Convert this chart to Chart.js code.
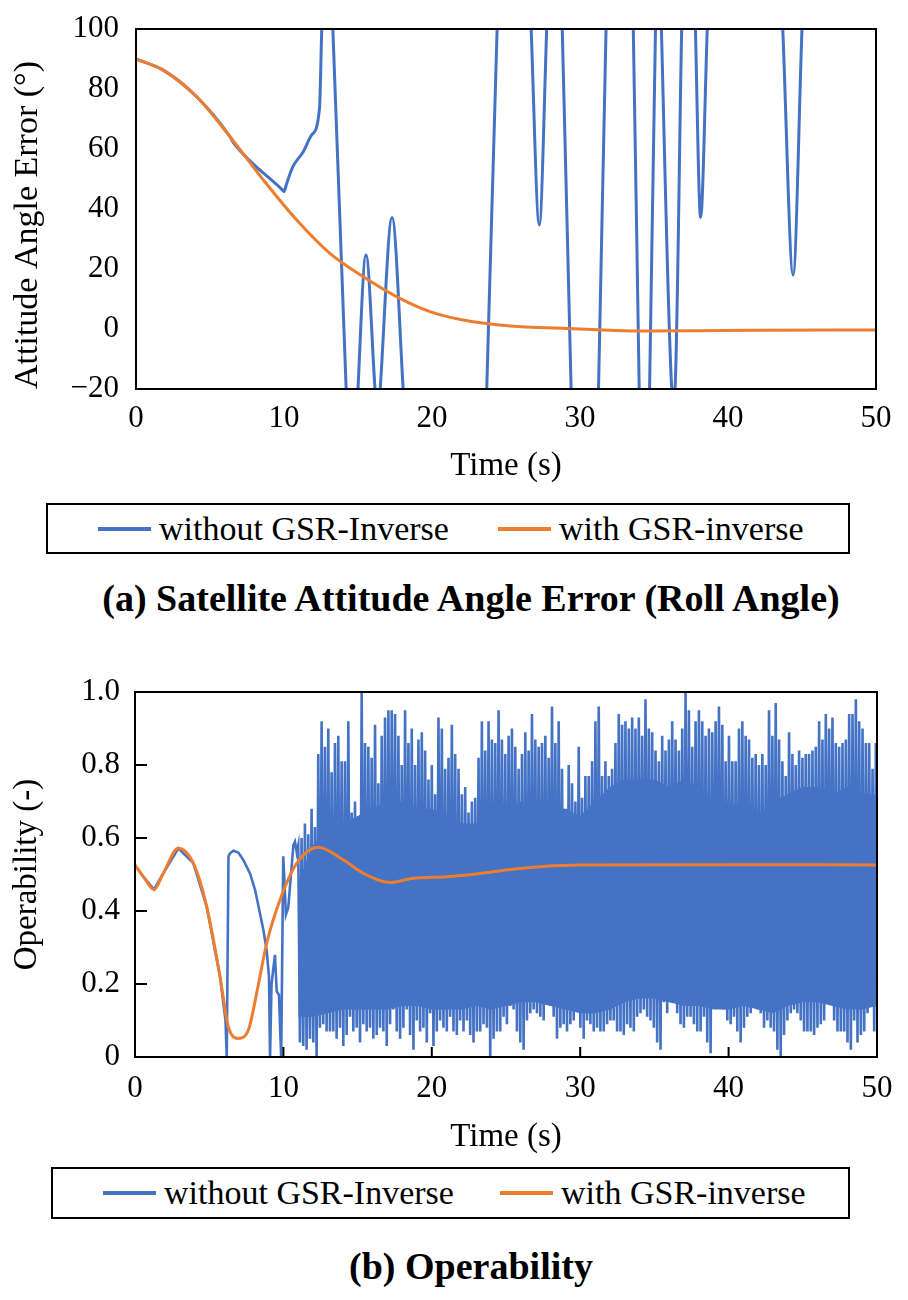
<!DOCTYPE html>
<html>
<head>
<meta charset="utf-8">
<script src="https://cdn.jsdelivr.net/npm/chart.js@4.4.1/dist/chart.umd.min.js"></script>
<style>
  body { margin: 0; background: #fff; }
  #page { position: relative; width: 908px; height: 1300px; overflow: hidden;
          font-family: "Liberation Serif", "Times New Roman", serif; color: #000; }
  .plot { position: absolute; left: 0; width: 908px; height: 500px; }
  .legend { position: absolute; border: 2px solid #000; box-sizing: border-box; font-size: 34px; }
  .legend .item { position: absolute; top: 0; height: 100%; display: flex; align-items: center; white-space: nowrap; }
  .legend .swatch { width: 53px; height: 4px; margin-right: 8px; }
  .caption { position: absolute; left: 0; width: 942px; text-align: center;
             font-weight: bold; font-size: 38px; line-height: 44px; }
</style>
</head>
<body>
<div id="page">
  <div class="plot" style="top:0"><canvas id="rollChart"></canvas></div>
  <div class="legend" id="rollLegend" style="left:46px; top:503px; width:804px; height:51px"></div>
  <div class="caption" style="top:576px">(a) Satellite Attitude Angle Error (Roll Angle)</div>

  <div class="plot" style="top:663px"><canvas id="opChart"></canvas></div>
  <div class="legend" id="opLegend" style="left:51px; top:1167px; width:799px; height:52px"></div>
  <div class="caption" style="top:1244px">(b) Operability</div>
</div>

<script>
// ---- (a) roll angle error, degrees ----
const rollTimeGsr = [0, 1.84, 4.1, 6.35, 8.6, 10.86, 13.1, 15.36, 17.6, 19.86, 22.1, 25.3, 29.1, 32, 34.5, 38, 42, 50];
const rollGsr     = [90, 86.3, 77.4, 64.1, 49.7, 36.3, 25.2, 17.4, 10.8, 5.8, 3.0, 1.0, 0.2, -0.4, -0.7, -0.6, -0.4, -0.3];

// values outside -20..100 leave the frame (clipped like the original)
const rollTimeNoGsr = [0, 1.84, 4.1, 6.35, 6.6, 9.9, 10.0, 10.15, 10.6, 11.3, 11.87, 12.4, 12.55, 12.9, 13.3,
  14.2, 14.6, 15.0, 15.54, 16.15, 16.33, 16.5, 17.3, 18.05, 18.5, 19.2, 23.2, 23.7, 24.4, 25.55,
  26.7, 27.25, 27.75, 28.3, 28.8, 29.4, 29.9, 30.75, 31.25, 31.76, 32.7, 33.6, 34.0, 34.35, 34.7,
  35.1, 35.3, 35.5, 36.2, 36.31, 36.42, 36.87, 37.35, 37.8, 38.15, 38.6, 41, 43.7, 44.4, 45.0, 47, 50];
const rollNoGsr = [90, 86.3, 77.4, 64.1, 62, 46.3, 45.8, 48, 54.1, 59.1, 64.7, 73.6, 100, 150, 100,
  -20, -70, -20, 24.7, -20, -32, -20, 37.2, -20, -60, -110, -110, -20, 100, 260,
  100, 34.7, 100, 180, 100, -20, -110, -110, -20, 100, 250, 100, -20, -100, -20,
  100, 140, 100, -20, -23, -20, 100, 200, 100, 37.2, 100, 400, 100, 18, 100, 350, 500];

// ---- (b) operability ----
const opTimeGsr = [0, 0.56, 1.28, 1.9, 2.92, 3.93, 4.83, 5.73, 6.29, 6.96, 7.64, 8.2, 8.87, 9.77, 10.9,
  12.35, 14.04, 15.4, 17.2, 18.75, 21.0, 23.25, 25.3, 27.5, 30, 40, 50];
const opGsr = [0.526, 0.494, 0.459, 0.503, 0.572, 0.531, 0.412, 0.22, 0.083, 0.051, 0.074, 0.175, 0.311, 0.43, 0.531,
  0.575, 0.54, 0.503, 0.478, 0.49, 0.494, 0.503, 0.514, 0.522, 0.526, 0.527, 0.526];

// without GSR-inverse: smooth part up to ~11 s
const opTimeNoGsr = [0, 0.56, 1.28, 1.9, 2.92, 3.93, 4.83, 5.73, 6.1, 6.18, 6.3, 6.4, 6.63, 6.96, 7.3,
  7.75, 8.09, 8.42, 8.65, 8.87, 9.03, 9.1, 9.2, 9.43, 9.55, 9.7, 9.85, 9.99, 10.17, 10.33, 10.67, 10.78, 10.9];
const opNoGsr = [0.526, 0.494, 0.459, 0.503, 0.572, 0.531, 0.412, 0.22, 0.10, 0.0, 0.55, 0.558, 0.565, 0.56, 0.54,
  0.503, 0.458, 0.394, 0.348, 0.293, 0.22, 0.0, 0.2, 0.28, 0.18, 0.17, 0.0, 0.55, 0.39, 0.41, 0.58, 0.59, 0.56];

// chattering part from 11 s: alternating spike tops and bottoms on a fixed sample clock
const chatterStart = 11.0;
const chatterStep = 0.225;
const chatterTops = [
  0.58, 0.60, 0.64, 0.61, 0.68, 0.63, 0.83, 0.92, 0.85, 0.90,
  0.78, 0.86, 0.88, 0.81, 0.81, 0.92, 0.67, 0.70, 0.64, 1.00,
  0.86, 0.85, 0.82, 0.91, 0.75, 0.88, 0.93, 0.95, 0.95, 0.94,
  0.88, 0.80, 0.95, 0.86, 0.90, 0.80, 0.87, 0.89, 0.84, 0.76,
  0.80, 0.72, 0.93, 0.90, 0.79, 0.82, 0.91, 0.83, 0.79, 0.72,
  0.74, 0.67, 0.70, 0.71, 0.82, 0.92, 0.84, 0.92, 0.87, 0.86,
  0.95, 0.87, 0.83, 0.88,
  0.90, 0.85, 0.79, 0.83, 0.89, 0.84, 0.94, 0.87, 0.85, 0.86,
  0.88, 0.82, 0.96, 0.86, 0.92, 0.79, 0.68, 0.80, 0.75, 0.70,
  0.85, 0.71, 0.77, 0.77, 0.81, 0.92, 0.96, 0.77, 0.81, 0.77,
  0.79, 0.86, 0.94, 0.91, 0.92, 0.90, 0.93, 0.90, 0.93, 0.88,
  0.98, 0.90, 0.89, 0.84, 0.81, 0.88, 0.84, 0.87, 0.92, 0.87,
  0.84, 0.90, 1.00, 0.95, 0.85, 0.92, 0.95, 0.92, 0.88, 0.90,
  0.89, 0.92, 0.96, 0.91, 0.81, 0.88, 0.81, 0.81, 0.90, 0.92,
  0.88, 0.87, 0.82, 0.83, 0.80, 0.83, 0.80, 0.95, 0.88, 0.97,
  0.87, 0.81, 0.77, 0.89, 0.83, 0.80, 0.84, 0.82, 0.83, 0.83,
  0.84, 0.85, 0.92, 0.87, 0.94, 0.90, 0.93, 0.86, 0.85, 0.86,
  0.87, 0.94, 0.94, 0.98, 0.92, 0.90, 0.86, 0.86, 0.79, 0.86];
const chatterBottoms = [
  0.04, 0.03, 0.02, 0.05, 0.04, 0.00, 0.08, 0.09, 0.07, 0.07,
  0.07, 0.05, 0.08, 0.03, 0.06, 0.11, 0.07, 0.08, 0.04, 0.09,
  0.07, 0.08, 0.05, 0.06, 0.08, 0.07, 0.03, 0.09, 0.13, 0.07,
  0.05, 0.08, 0.13, 0.06, 0.02, 0.10, 0.07, 0.08, 0.04, 0.12,
  0.03, 0.07, 0.10, 0.08, 0.07, 0.11, 0.07, 0.06, 0.10, 0.07,
  0.10, 0.06, 0.04, 0.07, 0.07, 0.09, 0.08, 0.00, 0.05, 0.07,
  0.07, 0.11, 0.09, 0.14,
  0.13, 0.07, 0.04, 0.02, 0.10, 0.12, 0.13, 0.12, 0.11, 0.10,
  0.17, 0.14, 0.11, 0.05, 0.08, 0.09, 0.07, 0.09, 0.10, 0.13,
  0.08, 0.05, 0.10, 0.09, 0.07, 0.08, 0.07, 0.07, 0.09, 0.10,
  0.10, 0.07, 0.07, 0.06, 0.09, 0.08, 0.07, 0.11, 0.12, 0.13,
  0.11, 0.10, 0.08, 0.04, 0.02, 0.15, 0.12, 0.15, 0.19, 0.12,
  0.09, 0.08, 0.11, 0.11, 0.09, 0.07, 0.07, 0.11, 0.04, 0.01,
  0.17, 0.16, 0.14, 0.13, 0.10, 0.09, 0.11, 0.07, 0.04, 0.08,
  0.11, 0.12, 0.14, 0.13, 0.12, 0.08, 0.10, 0.08, 0.07, 0.02,
  0.00, 0.06, 0.10, 0.12, 0.13, 0.12, 0.10, 0.07, 0.07, 0.07,
  0.06, 0.08, 0.09, 0.10, 0.21, 0.17, 0.10, 0.07, 0.07, 0.07,
  0.04, 0.02, 0.10, 0.04, 0.06, 0.07, 0.12, 0.15, 0.07, 0.07];

// edges of the solid (densely crossed) core of the chattering band
const coreTime = [11, 11.5, 12, 13, 14, 15, 16, 17, 18, 19, 20, 21, 22, 23, 24, 25, 26, 27, 28, 29, 30,
  31, 32, 33, 34, 35, 36, 37, 38, 39, 40, 41, 42, 43, 44, 45, 46, 47, 48, 49, 50];
const coreTop = [0.48, 0.53, 0.58, 0.62, 0.64, 0.66, 0.68, 0.70, 0.70, 0.68, 0.68, 0.66, 0.64, 0.64, 0.66, 0.68,
  0.70, 0.68, 0.68, 0.68, 0.66, 0.70, 0.74, 0.76, 0.76, 0.76, 0.74, 0.76, 0.74, 0.70, 0.70, 0.68, 0.66, 0.70,
  0.72, 0.74, 0.74, 0.72, 0.74, 0.72, 0.72];
const coreBottom = [0.11, 0.11, 0.11, 0.12, 0.13, 0.13, 0.13, 0.13, 0.14, 0.14, 0.13, 0.13, 0.13, 0.14, 0.13, 0.14,
  0.15, 0.15, 0.14, 0.13, 0.12, 0.12, 0.13, 0.15, 0.16, 0.16, 0.15, 0.14, 0.14, 0.13, 0.13, 0.14, 0.13, 0.12,
  0.14, 0.15, 0.15, 0.14, 0.13, 0.13, 0.14];

const rollTicks = [-20, 0, 20, 40, 60, 80, 100];
const opTicks = [0, 0.2, 0.4, 0.6, 0.8, 1.0];
const timeTicks = [0, 10, 20, 30, 40, 50];

const BLUE = '#4472C4';
const ORANGE = '#ED7D31';
const SERIF = "'Liberation Serif', 'Times New Roman', serif";

function pairs(xs, ys) {
  return xs.map((x, i) => ({ x: x, y: ys[i] }));
}

const opNoGsrPoints = pairs(opTimeNoGsr, opNoGsr);
chatterTops.forEach((top, k) => {
  const t = chatterStart + chatterStep * k;
  opNoGsrPoints.push({ x: t, y: top });
  opNoGsrPoints.push({ x: t + chatterStep / 2, y: chatterBottoms[k] });
});

// black frame round the plot area, optional inward tick marks
const framePlugin = {
  id: 'frame',
  afterDraw(chart, args, opts) {
    const { ctx, chartArea: a, scales } = chart;
    ctx.save();
    ctx.strokeStyle = '#000';
    ctx.lineWidth = 2;
    if (opts.tickLength) {
      ctx.beginPath();
      scales.y.ticks.forEach(t => {
        const py = scales.y.getPixelForValue(t.value);
        ctx.moveTo(a.left, py);
        ctx.lineTo(a.left + opts.tickLength, py);
      });
      scales.x.ticks.forEach(t => {
        const px = scales.x.getPixelForValue(t.value);
        ctx.moveTo(px, a.bottom);
        ctx.lineTo(px, a.bottom - opts.tickLength + 2);
      });
      ctx.stroke();
    }
    ctx.strokeRect(a.left, a.top, a.right - a.left, a.bottom - a.top);
    ctx.restore();
  }
};

function makeChart(id, datasets, s) {
  return new Chart(document.getElementById(id), {
    type: 'line',
    data: { datasets },
    options: {
      responsive: true,
      maintainAspectRatio: false,
      animation: false,
      layout: { padding: { top: 29, right: s.right, left: 0, bottom: 0 } },
      plugins: { legend: { display: false }, tooltip: { enabled: false }, frame: { tickLength: s.tickLength } },
      scales: {
        x: {
          type: 'linear', min: 0, max: 50,
          afterBuildTicks: sc => { sc.ticks = timeTicks.map(v => ({ value: v })); },
          ticks: { padding: s.xPad, color: '#000', font: { family: SERIF, size: 31 } },
          grid: { display: false, drawTicks: false },
          border: { display: false },
          title: { display: true, text: 'Time (s)', color: '#000',
                   font: { family: SERIF, size: 33 }, padding: { top: 0, bottom: s.xTitlePad } },
          afterFit: sc => { sc.height = s.xHeight; sc.paddingLeft = 0; sc.paddingRight = 0; }
        },
        y: {
          type: 'linear', min: s.yTicks[0], max: s.yTicks[s.yTicks.length - 1],
          afterBuildTicks: sc => { sc.ticks = s.yTicks.map(v => ({ value: v })); },
          ticks: { padding: s.yPad, color: '#000', font: { family: SERIF, size: 31 }, callback: s.yFormat },
          grid: { display: false, drawTicks: false },
          border: { display: false },
          title: { display: true, text: s.yTitle, color: '#000', align: s.yAlign,
                   font: { family: SERIF, size: s.yTitleSize }, padding: { top: 8 } },
          afterFit: sc => { sc.width = s.yWidth; sc.paddingTop = 0; sc.paddingBottom = 0; }
        }
      }
    },
    plugins: [framePlugin]
  });
}

const rollChart = makeChart('rollChart', [
  { label: 'without GSR-Inverse', data: pairs(rollTimeNoGsr, rollNoGsr), borderColor: BLUE, borderWidth: 3,
    pointRadius: 0, cubicInterpolationMode: 'monotone', order: 1 },
  { label: 'with GSR-inverse', data: pairs(rollTimeGsr, rollGsr), borderColor: ORANGE, borderWidth: 3,
    pointRadius: 0, cubicInterpolationMode: 'monotone', order: 0 }
], {
  right: 32, yWidth: 136, xHeight: 111, xPad: 11, xTitlePad: 14, yPad: 17, tickLength: 0,
  yTicks: rollTicks, yTitle: 'Attitude Angle Error (°)', yAlign: 'start', yTitleSize: 34,
  yFormat: v => v < 0 ? '\u2212' + Math.abs(v) : String(v)
});

const opChart = makeChart('opChart', [
  { label: 'without GSR-Inverse', data: opNoGsrPoints, borderColor: BLUE, borderWidth: 2.6,
    pointRadius: 0, tension: 0, order: 1 },
  { label: 'with GSR-inverse', data: pairs(opTimeGsr, opGsr), borderColor: ORANGE, borderWidth: 3,
    pointRadius: 0, cubicInterpolationMode: 'monotone', order: 0 },
  // solid core of the blue band (part of the blue series, not a legend entry)
  { label: 'core top', data: pairs(coreTime, coreTop), borderWidth: 0, pointRadius: 0, tension: 0,
    backgroundColor: BLUE, fill: '+1', order: 2, inLegend: false },
  { label: 'core bottom', data: pairs(coreTime, coreBottom), borderWidth: 0, pointRadius: 0, tension: 0,
    order: 3, inLegend: false }
], {
  right: 31, yWidth: 135, xHeight: 106, xPad: 13, xTitlePad: 6, yPad: 15, tickLength: 12,
  yTicks: opTicks, yTitle: 'Operability (-)', yAlign: 'center', yTitleSize: 33,
  yFormat: v => v === 0 ? '0' : v.toFixed(1)
});

// html legend boxes built from the chart datasets
function buildLegend(chart, id, slots) {
  const box = document.getElementById(id);
  chart.data.datasets.filter(ds => ds.inLegend !== false).forEach((ds, i) => {
    const item = document.createElement('div');
    item.className = 'item';
    item.style.left = slots[i] + 'px';
    const sw = document.createElement('span');
    sw.className = 'swatch';
    sw.style.background = ds.borderColor;
    item.appendChild(sw);
    item.appendChild(document.createTextNode(ds.label));
    box.appendChild(item);
  });
}
buildLegend(rollChart, 'rollLegend', [50, 450]);
buildLegend(opChart, 'opLegend', [50, 447]);
</script>
</body>
</html>
